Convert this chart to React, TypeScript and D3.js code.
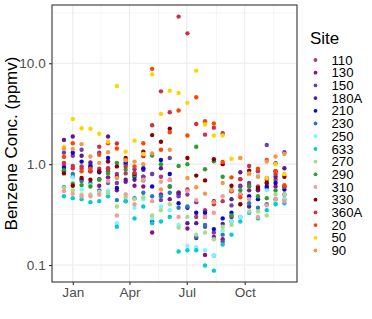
import React, { useEffect, useRef } from 'react';
import * as d3 from 'd3';

// sites in legend order, with their colours
const sites = ['110', '130', '150', '180A', '210', '230', '250', '633', '270', '290', '310', '330', '360A', '20', '50', '90'];
const siteColors = ['#b53a62', '#8e0f8e', '#6e42a3', '#5a1a96', '#0a0acd', '#2a7ab8', '#7cf5ff', '#00cdd0', '#a6dd8a', '#2e9e2e', '#f99a9a', '#8b0000', '#cc3340', '#ff4500', '#ffd500', '#f2994a'];

// sampling dates (every two weeks)
const sampleDates = [
  '2017-12-18', '2018-01-01', '2018-01-15', '2018-01-29', '2018-02-12', '2018-02-26', '2018-03-12',
  '2018-03-26', '2018-04-09', '2018-04-23', '2018-05-07', '2018-05-21', '2018-06-04', '2018-06-18',
  '2018-07-02', '2018-07-16', '2018-07-30', '2018-08-13', '2018-08-27', '2018-09-10', '2018-09-24',
  '2018-10-08', '2018-10-22', '2018-11-05', '2018-11-19', '2018-12-03'
];

// benzene concentration (ppmv) per site, one value per sampling date
const s110 = [0.96, 0.96, 0.9, 0.92, 0.9, 0.85, 0.8, 0.81, 0.78, 0.75, 0.8, 0.75, 0.7, 0.5, 0.56, 0.3, 0.35, 0.4, 0.43, 0.54, 0.71, 0.62, 0.6, 0.7, 0.7, 0.6];
const s130 = [0.85, 0.75, 0.7, 0.85, 0.61, 0.74, 0.55, 0.67, 0.61, 0.6, 0.21, 0.5, 0.45, 0.52, 0.23, 0.185, 0.126, 0.19, 0.18, 0.3, 0.61, 0.55, 0.56, 0.58, 0.6, 0.5];
const s150 = [1.3, 1.21, 1.39, 0.98, 1.3, 0.9, 0.65, 1.0, 0.89, 0.75, 0.8, 0.44, 1.15, 0.48, 0.5, 0.42, 0.24, 0.21, 0.17, 0.39, 0.6, 0.65, 0.85, 1.55, 1.02, 1.31];
const s180A = [1.74, 1.88, 1.21, 1.04, 0.71, 1.88, 0.75, 0.7, 0.7, 0.88, 0.27, 0.91, 0.6, 0.52, 0.26, 0.26, 0.3, 0.43, 0.256, 0.45, 0.83, 0.38, 0.55, 0.65, 0.75, 0.91];
const s210 = [0.92, 1.3, 1.06, 0.95, 0.83, 1.15, 0.58, 1.04, 0.75, 0.91, 0.6, 1.1, 0.8, 0.41, 0.37, 0.33, 0.33, 0.227, 0.29, 0.33, 0.5, 0.48, 0.45, 0.6, 0.65, 0.56];
const s230 = [0.59, 0.8, 0.68, 0.65, 0.55, 0.65, 0.44, 0.43, 0.46, 0.52, 0.48, 0.48, 0.52, 0.37, 0.38, 0.19, 0.25, 0.124, 0.2, 0.27, 0.3, 0.41, 0.37, 0.4, 0.45, 0.45];
const s250 = [0.55, 0.74, 0.56, 0.62, 0.5, 0.55, 0.26, 0.5, 0.37, 0.45, 0.29, 0.38, 0.35, 0.25, 0.155, 0.15, 0.14, 0.124, 0.22, 0.27, 0.3, 0.33, 0.78, 0.55, 0.42, 0.45];
const s633 = [0.48, 0.46, 0.45, 0.42, 0.43, 0.48, 0.24, 0.43, 0.29, 0.38, 0.26, 0.27, 0.3, 0.136, 0.14, 0.14, 0.099, 0.088, 0.16, 0.2, 0.27, 0.33, 0.29, 0.35, 0.4, 0.41];
const s270 = [0.58, 0.55, 0.5, 0.5, 0.53, 0.52, 0.38, 0.47, 0.45, 0.47, 0.31, 0.35, 0.4, 0.235, 0.3, 0.2, 0.21, 0.18, 0.24, 0.25, 0.4, 0.34, 0.34, 0.31, 0.5, 0.5];
const s290 = [0.87, 0.64, 0.62, 0.6, 0.7, 0.81, 1.03, 0.88, 0.77, 0.69, 1.22, 1.0, 0.6, 0.96, 1.0, 1.49, 0.89, 1.07, 0.75, 0.31, 0.55, 0.6, 0.48, 0.46, 0.55, 0.6];
const s310 = [0.54, 0.51, 0.48, 0.48, 0.5, 0.68, 0.31, 0.5, 0.4, 0.7, 0.43, 0.67, 0.7, 0.3, 0.54, 0.44, 0.3, 0.33, 0.48, 0.56, 0.5, 0.45, 0.3, 0.39, 0.45, 0.43];
const s330 = [0.81, 0.61, 0.73, 0.7, 0.85, 1.06, 0.95, 1.15, 0.8, 1.33, 1.94, 1.67, 2.24, null, 1.15, 0.77, 0.69, 1.12, 1.0, 0.61, 0.4, 0.86, 0.58, 0.65, 0.85, 0.75];
const s360A = [1.03, 0.91, 0.95, 0.85, 1.49, 0.91, 1.6, 0.95, 0.82, 1.2, 2.43, 5.27, 3.27, 29, 19.8, 2.5, 1.96, 2.3, 2.03, 0.54, 0.71, 0.96, 0.86, 0.73, 0.8, 0.6];
const s20 = [1.18, 1.61, 0.85, 0.9, 1.24, 1.61, 1.43, 1.1, 0.95, 1.61, 8.8, 1.39, 2.07, 3.4, 1.92, 4.6, 2.66, 2.53, 1.05, 0.74, 0.47, 0.8, 0.9, 1.1, 0.85, 0.62];
const s50 = [1.49, 2.8, 2.27, 2.24, 2.0, 1.67, 5.95, 1.33, 1.71, 1.26, 7.8, 3.15, 5.35, 5.08, 4.05, 8.45, 2.47, 1.92, 1.92, 1.13, 1.15, 0.8, null, 0.73, 1.0, 0.8];
const s90 = [1.42, 1.41, 1.58, 1.19, 1.03, 1.31, 0.73, 1.09, 1.06, 1.0, 1.28, 0.56, 1.39, null, 0.73, 0.59, 0.51, 0.42, 0.65, 0.55, 1.15, 0.81, 0.75, 1.06, 1.19, 1.26];

const siteValues = [s110, s130, s150, s180A, s210, s230, s250, s633, s270, s290, s310, s330, s360A, s20, s50, s90];

const yTicks = [0.1, 1, 10];
const yTickLabels = ['0.1', '1.0', '10.0'];
const xTickDates = ['2018-01-01', '2018-04-01', '2018-07-01', '2018-10-01'];
const xTickLabels = ['Jan', 'Apr', 'Jul', 'Oct'];

const App = () => {
  const ref = useRef(null);

  useEffect(() => {
    const W = 372, H = 319;
    const left = 52, right = 297, top = 5, bottom = 282;
    const font = "'Liberation Sans', Arial, sans-serif";
    const parse = d3.utcParse('%Y-%m-%d');

    const svg = d3.select(ref.current).attr('width', W).attr('height', H);
    svg.selectAll('*').remove();

    const x = d3.scaleUtc()
      .domain([parse('2017-11-29'), parse('2018-12-23')])
      .range([left, right]);
    const y = d3.scaleLog()
      .domain([0.0679, 37.8])
      .range([bottom, top]);

    svg.append('rect').attr('x', left).attr('y', top).attr('width', right - left).attr('height', bottom - top).attr('fill', '#fff');

    const grid = svg.append('g');
    // minor grid lines half way between the major ones
    const yMinor = [0.0316, 0.316, 3.16, 31.6].filter(v => v > 0.0679 && v < 37.8);
    const xMajor = xTickDates.map(parse);
    const step = (xMajor[1].getTime() - xMajor[0].getTime());
    const xMinor = xMajor.map(d => new Date(d.getTime() - step / 2)).concat([new Date(xMajor[3].getTime() + (xMajor[3].getTime() - xMajor[2].getTime()) / 2)])
      .filter(d => x(d) > left && x(d) < right);
    grid.selectAll('.ymin').data(yMinor).enter().append('line')
      .attr('x1', left).attr('x2', right).attr('y1', d => y(d)).attr('y2', d => y(d))
      .attr('stroke', '#ebebeb').attr('stroke-width', 0.55);
    grid.selectAll('.xmin').data(xMinor).enter().append('line')
      .attr('y1', top).attr('y2', bottom).attr('x1', d => x(d)).attr('x2', d => x(d))
      .attr('stroke', '#ebebeb').attr('stroke-width', 0.55);
    grid.selectAll('.ymaj').data(yTicks).enter().append('line')
      .attr('x1', left).attr('x2', right).attr('y1', d => y(d)).attr('y2', d => y(d))
      .attr('stroke', '#ebebeb').attr('stroke-width', 1.1);
    grid.selectAll('.xmaj').data(xMajor).enter().append('line')
      .attr('y1', top).attr('y2', bottom).attr('x1', d => x(d)).attr('x2', d => x(d))
      .attr('stroke', '#ebebeb').attr('stroke-width', 1.1);

    // points
    const pts = [];
    siteValues.forEach((vals, si) => {
      vals.forEach((v, di) => {
        if (v != null) pts.push({ site: si, date: parse(sampleDates[di]), value: v });
      });
    });
    svg.append('g').selectAll('circle').data(pts).enter().append('circle')
      .attr('cx', d => x(d.date))
      .attr('cy', d => y(d.value))
      .attr('r', 2.2)
      .attr('fill', d => siteColors[d.site]);

    // border
    svg.append('rect').attr('x', left).attr('y', top).attr('width', right - left).attr('height', bottom - top)
      .attr('fill', 'none').attr('stroke', '#333').attr('stroke-width', 1.1);

    // y axis
    const yAxis = svg.append('g').attr('transform', `translate(${left},0)`)
      .call(d3.axisLeft(y).tickValues(yTicks).tickFormat((d, i) => yTickLabels[i]).tickSize(3).tickPadding(3.3));
    yAxis.select('.domain').remove();
    yAxis.selectAll('line').attr('stroke', '#333').attr('stroke-width', 1.1);
    yAxis.selectAll('text').attr('fill', '#4d4d4d').style('font-family', font).style('font-size', '13.6px');

    // x axis
    const xAxis = svg.append('g').attr('transform', `translate(0,${bottom})`)
      .call(d3.axisBottom(x).tickValues(xMajor).tickFormat((d, i) => xTickLabels[i]).tickSize(3).tickPadding(2.3));
    xAxis.select('.domain').remove();
    xAxis.selectAll('line').attr('stroke', '#333').attr('stroke-width', 1.1);
    xAxis.selectAll('text').attr('fill', '#4d4d4d').style('font-family', font).style('font-size', '13.6px');

    // y title
    svg.append('text')
      .attr('transform', `translate(17,${(top + bottom) / 2}) rotate(-90)`)
      .attr('text-anchor', 'middle')
      .style('font-family', font).style('font-size', '17px')
      .text('Benzene Conc. (ppmv)');

    // legend
    const lg = svg.append('g');
    lg.append('text').attr('x', 310).attr('y', 43.5)
      .style('font-family', font).style('font-size', '17px').text('Site');
    const item = lg.selectAll('.item').data(sites).enter().append('g')
      .attr('transform', (d, i) => `translate(0,${60 + i * 12.7})`);
    item.append('circle').attr('cx', 315.5).attr('cy', 0).attr('r', 1.9).attr('fill', (d, i) => siteColors[i]);
    item.append('text').attr('x', 331.5).attr('y', 4.6)
      .style('font-family', font).style('font-size', '13.2px').text(d => d);
  }, []);

  return <svg ref={ref} style={{ position: 'absolute', left: 0, top: 0 }}></svg>;
};

export default App;
